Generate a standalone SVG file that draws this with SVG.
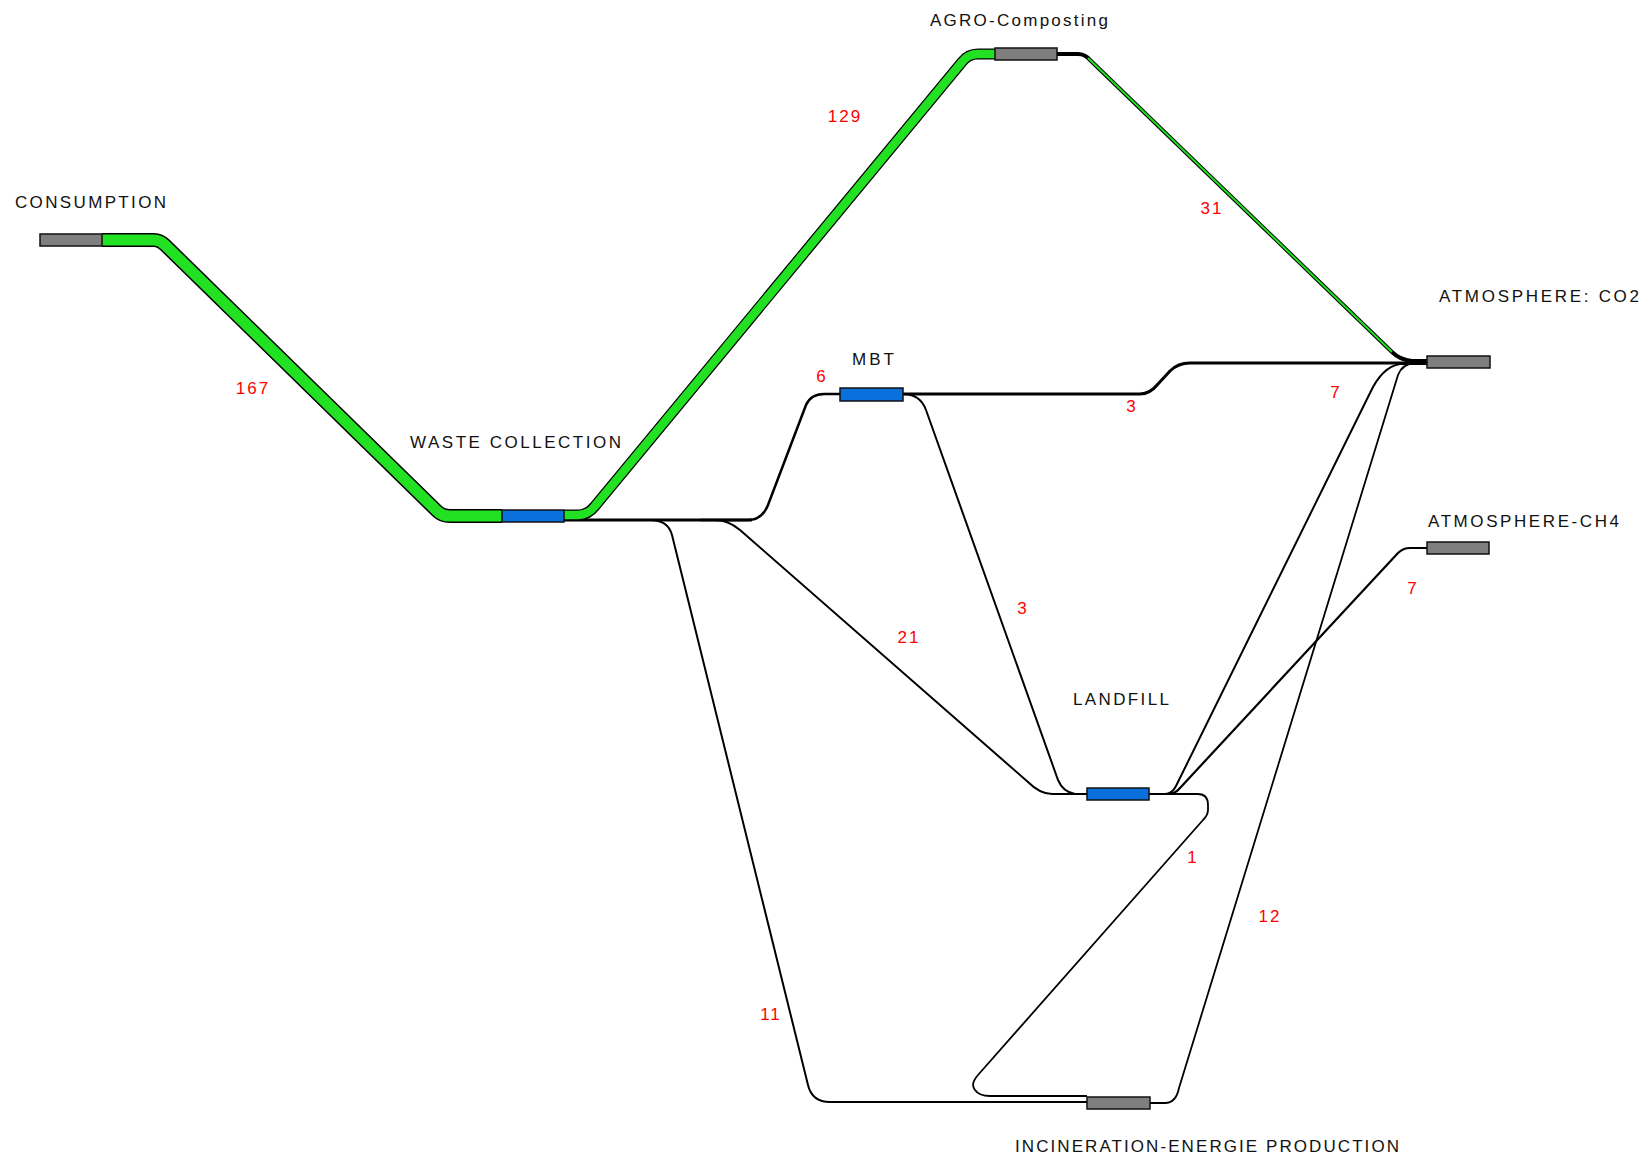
<svg xmlns="http://www.w3.org/2000/svg" width="1644" height="1156" viewBox="0 0 1644 1156">
<style>
.lbl{font-family:"Liberation Sans",Arial,sans-serif;font-size:17px;fill:#111;}
.num{font-family:"Liberation Sans",Arial,sans-serif;font-size:17px;fill:#ff0000;text-anchor:middle;letter-spacing:2px;}
.gray{fill:#7f7f7f;stroke:#111;stroke-width:1.5;}
.blue{fill:#0a70dc;stroke:#111;stroke-width:1.5;}
.flow{fill:none;stroke:#000;stroke-linejoin:round;stroke-linecap:butt;}
.gflow{fill:none;stroke:#22e022;stroke-linejoin:round;}
</style>
<rect width="1644" height="1156" fill="#fff"/>
<g id="connectors">
  <path class="flow" stroke-width="3" d="M564,520 H752"/>
  <path class="flow" stroke-width="2.5" d="M700,520 H748 Q762,520 768,505 L806,405 Q811,394 824,394 H840"/>
  <path class="flow" stroke-width="2" d="M650,520 Q668,520 672,535 L808,1085 Q812,1102 830,1102 H1087"/>
  <path class="flow" stroke-width="2" d="M715,520 Q728,520 740,530 L1028,782 Q1040,794 1052,794 H1087"/>
  <path class="flow" stroke-width="3" d="M903,394 H1140 Q1150,394 1158,384 L1170,371 Q1178,363 1190,363 H1427"/>
  <path class="flow" stroke-width="2" d="M903,394 Q920,394 926,410 L1058,780 Q1063,792 1075,794 H1087"/>
  <path class="flow" stroke-width="2" d="M1149,794 H1165 Q1172,794 1176,786 L1370,393 Q1382,367 1400,364 H1427"/>
  <path class="flow" stroke-width="2.2" d="M1149,794 H1168 Q1175,794 1180,788 L1398,553 Q1403,548 1410,548 H1427"/>
  <path class="flow" stroke-width="1.8" d="M1149,794 H1198 Q1208,794 1208,805 V810 Q1208,815 1203,820 L978,1075 Q970,1084 975,1090 Q979,1096 990,1096 H1087"/>
  <path class="flow" stroke-width="1.8" d="M1150,1103 H1165 Q1176,1103 1179,1088 L1398,375 Q1402,364 1415,363 H1427"/>
  <path class="flow" stroke-width="14" d="M102,240 H154 Q160,240 165,245 L437,511 Q442,516 450,516 H502"/>
  <path class="gflow" stroke-width="11" d="M102,240 H154 Q160,240 165,245 L437,511 Q442,516 450,516 H502"/>
  <path class="flow" stroke-width="11" d="M564,515 H578 Q588,515 595,506 L962,62 Q968,54 978,54 H995"/>
  <path class="gflow" stroke-width="8.5" d="M564,515 H578 Q588,515 595,506 L962,62 Q968,54 978,54 H995"/>
  <path class="flow" stroke-width="4" d="M1057,54 H1078 Q1085,54 1090,60 L1392,352 Q1400,360 1412,361 H1427"/>
  <path class="gflow" stroke-width="2" d="M1088,58 L1392,352"/>
</g>
<g id="consumption">
  <rect class="gray" x="40" y="234" width="62" height="12"/>
  <text class="lbl" x="15" y="208" textLength="151" lengthAdjust="spacing">CONSUMPTION</text>
</g>
<g id="waste-collection">
  <rect class="blue" x="502" y="510" width="62" height="12"/>
  <text class="lbl" x="410" y="448" textLength="211" lengthAdjust="spacing">WASTE COLLECTION</text>
</g>
<g id="agro-composting">
  <rect class="gray" x="995" y="48" width="62" height="12"/>
  <text class="lbl" x="930" y="26" textLength="178" lengthAdjust="spacing">AGRO-Composting</text>
</g>
<g id="mbt">
  <rect class="blue" x="840" y="388" width="63" height="13"/>
  <text class="lbl" x="852" y="365" textLength="42" lengthAdjust="spacing">MBT</text>
</g>
<g id="landfill">
  <rect class="blue" x="1087" y="788" width="62" height="12"/>
  <text class="lbl" x="1073" y="705" textLength="96" lengthAdjust="spacing">LANDFILL</text>
</g>
<g id="atmosphere-co2">
  <rect class="gray" x="1427" y="356" width="63" height="12"/>
  <text class="lbl" x="1439" y="302" textLength="200" lengthAdjust="spacing">ATMOSPHERE: CO2</text>
</g>
<g id="atmosphere-ch4">
  <rect class="gray" x="1427" y="542" width="62" height="12"/>
  <text class="lbl" x="1428" y="527" textLength="191" lengthAdjust="spacing">ATMOSPHERE-CH4</text>
</g>
<g id="incineration">
  <rect class="gray" x="1087" y="1097" width="63" height="12"/>
  <text class="lbl" x="1015" y="1152" textLength="384" lengthAdjust="spacing">INCINERATION-ENERGIE PRODUCTION</text>
</g>
<g id="flow-labels">
  <text class="num" x="253" y="394">167</text>
  <text class="num" x="845" y="122">129</text>
  <text class="num" x="1212" y="214">31</text>
  <text class="num" x="822" y="382">6</text>
  <text class="num" x="1132" y="412">3</text>
  <text class="num" x="1336" y="398">7</text>
  <text class="num" x="1023" y="614">3</text>
  <text class="num" x="909" y="643">21</text>
  <text class="num" x="1413" y="594">7</text>
  <text class="num" x="1193" y="863">1</text>
  <text class="num" x="1270" y="922">12</text>
  <text class="num" x="771" y="1020">11</text>
</g>
</svg>
